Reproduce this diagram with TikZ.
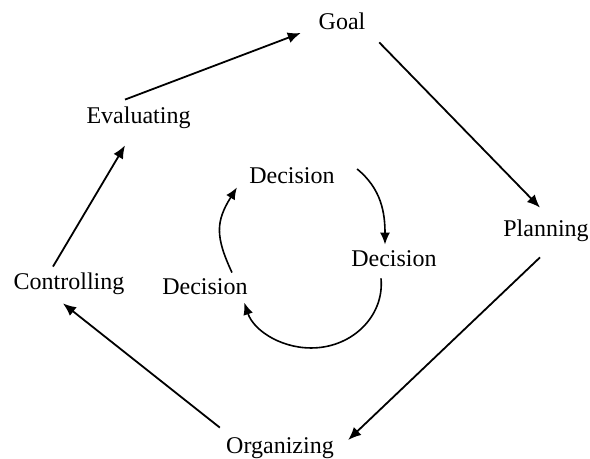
\documentclass[tikz,border=0pt]{standalone}
\usepackage{fontspec}
\setmainfont{Liberation Serif}
\usetikzlibrary{arrows.meta}

\begin{document}
\begin{tikzpicture}[x=0.5pt, y=0.5pt,
    stage/.style={font=\fontsize{12}{14}\selectfont, inner sep=4pt, text height=9pt, text depth=1.5pt},
    arrow/.style={-{Latex[length=6.5pt, width=5.5pt]}, line width=0.9pt},
    decarrow/.style={-{Latex[length=6pt, width=5pt]}, line width=0.8pt}
]
    \useasboundingbox (0,0) rectangle (590,459);

    % Outer cycle
    \node[stage] (goal) at (342,436.5) {Goal};
    \node[stage] (evaluating) at (138.5,342.5) {Evaluating};
    \node[stage] (planning) at (546,229.5) {Planning};
    \node[stage] (controlling) at (69,176.5) {Controlling};
    \node[stage] (organizing) at (280,12.5) {Organizing};

    % Inner decision loop
    \node[stage] (dtop) at (292,282.5) {Decision};
    \node[stage] (dright) at (394,199.5) {Decision};
    \node[stage] (dleft) at (205,171.5) {Decision};

    % Arrows of the outer cycle
    \draw[arrow] ([shift={(-13.5,-2)}]evaluating.north) -- ([shift={(-9.5,-10.5)}]goal.west);
    \draw[arrow] ([shift={(5.5,-1)}]goal.south east) -- ([shift={(-6,3)}]planning.north);
    \draw[arrow] ([shift={(-6,-9)}]planning.south) -- ([shift={(6,6.5)}]organizing.east);
    \draw[arrow] ([shift={(2,0)}]organizing.north west) -- ([shift={(-6,-2)}]controlling.south);
    \draw[arrow] ([shift={(-16,-3)}]controlling.north) -- ([shift={(-13.5,-10)}]evaluating.south);

    % Arrows of the decision loop
    \draw[decarrow] ([shift={(14,7.5)}]dtop.east) to[out=-39, in=90] ([shift={(-9,-4)}]dright.north);
    \draw[decarrow] ([shift={(-13,0)}]dright.south) arc[start angle=5, end angle=-163, x radius=70, y radius=64];
    \draw[decarrow] ([shift={(27,-4)}]dleft.north) to[out=115, in=-122, looseness=1.2] ([shift={(-4,8)}]dtop.south west);
\end{tikzpicture}
\end{document}
